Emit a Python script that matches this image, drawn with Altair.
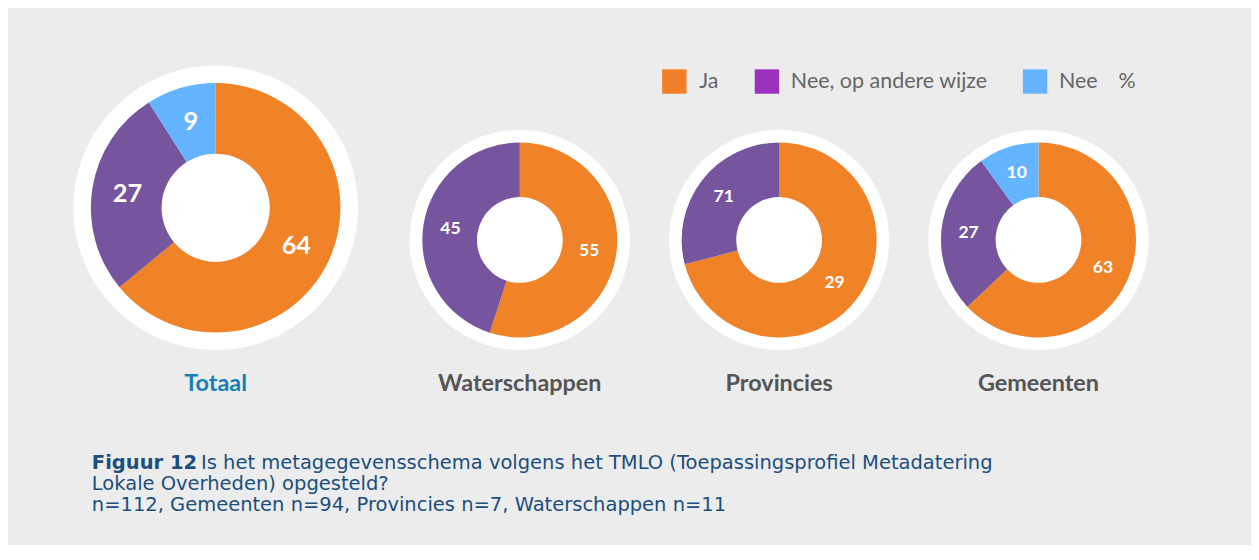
import altair as alt
import pandas as pd

# ---- data ----
categories = ["Ja", "Nee, op andere wijze", "Nee"]
panels = ["Totaal", "Waterschappen", "Provincies", "Gemeenten"]
# share of the ring drawn for each category (as drawn in the picture)
totaal_share = [64, 27, 9]
waterschappen_share = [55, 45, 0]
provincies_share = [71, 29, 0]
gemeenten_share = [63, 27, 10]
# numbers printed on the slices (as printed in the picture)
totaal_labels = ["64", "27", "9"]
waterschappen_labels = ["55", "45", ""]
provincies_labels = ["29", "71", ""]
gemeenten_labels = ["63", "27", "10"]

slice_colors = ["#f08228", "#76549e", "#64b4ff"]
legend_colors = ["#f07f28", "#9b32be", "#66b2ff"]
legend_unit = "%"

caption_bold = "Figuur 12"
caption_line1 = "Is het metagegevensschema volgens het TMLO (Toepassingsprofiel Metadatering"
caption_line2 = "Lokale Overheden) opgesteld?"
caption_line3 = "n=112, Gemeenten n=94, Provincies n=7, Waterschappen n=11"

BG = "#ececec"
LEG_TEXT = "#666666"


def panel_df(share, labels):
    rows = []
    for i, (c, v, l) in enumerate(zip(categories, share, labels)):
        if v > 0:
            rows.append({"cat": c, "v": v, "lab": l, "idx": i})
    return pd.DataFrame(rows)


def donut(name, share, labels, size, r_out, r_in, r_white, label_r, label_size, title_color):
    df = panel_df(share, labels)
    base = alt.Chart(df)
    theta = alt.Theta("v:Q", stack=True)
    order = alt.Order("idx:Q")
    white = base.mark_arc(radius=r_white, radius2=0, fill="white", stroke="white", strokeWidth=2).encode(
        theta=theta, order=order
    )
    ring = base.mark_arc(radius=r_out, radius2=r_in).encode(
        theta=theta,
        order=order,
        fill=alt.Fill("cat:N", scale=alt.Scale(domain=categories, range=slice_colors), legend=None),
    )
    text = base.mark_text(radius=label_r, font="Lato", fontWeight="bold", fontSize=label_size, color="white").encode(
        theta=theta, order=order, text="lab:N"
    )
    return alt.layer(white, ring, text).properties(
        width=size,
        height=size,
        title=alt.TitleParams(
            name, orient="bottom", anchor="middle", font="Lato", fontSize=24,
            fontWeight="bold", color=title_color, offset=20,
        ),
    )


tot = donut("Totaal", totaal_share, totaal_labels, 290, 128, 55.5, 145, 91.5, 26, "#1580b8")
wat = donut("Waterschappen", waterschappen_share, waterschappen_labels, 224, 100, 44, 112, 72, 18, "#555555")
pro = donut("Provincies", provincies_share, provincies_labels, 224, 100, 44, 112, 72, 18, "#555555")
gem = donut("Gemeenten", gemeenten_share, gemeenten_labels, 224, 100, 44, 112, 72, 18, "#555555")

# ---- legend drawn as its own small chart (swatch + label per category) ----
legend_df = pd.DataFrame({"cat": categories, "idx": list(range(len(categories)))})
leg_base = alt.Chart(legend_df)
swatches = leg_base.mark_square(size=625, opacity=1).encode(
    x=alt.X("idx:Q", scale=alt.Scale(domain=[0, 1, 2], range=[270.5, 365.5, 640.5], nice=False, zero=False),
            axis=None),
    y=alt.value(15.5),
    color=alt.Color("cat:N", scale=alt.Scale(domain=categories, range=legend_colors), legend=None),
)
leg_labels = leg_base.mark_text(align="left", baseline="middle", font="Lato", fontSize=22,
                                color=LEG_TEXT).encode(
    x=alt.X("idx:Q", scale=alt.Scale(domain=[0, 1, 2], range=[296, 390, 665], nice=False, zero=False),
            axis=None),
    y=alt.value(15.5),
    text="cat:N",
)
unit_df = pd.DataFrame({"u": [legend_unit]})
leg_unit = alt.Chart(unit_df).mark_text(align="left", baseline="middle", font="Lato", fontSize=22,
                                        color=LEG_TEXT).encode(
    x=alt.value(726), y=alt.value(15.5), text="u:N"
)
legend_chart = alt.layer(swatches, leg_labels, leg_unit).resolve_scale(x="independent").properties(
    width=740, height=46
)

right = alt.vconcat(legend_chart, alt.hconcat(wat, pro, gem, spacing=34), spacing=16)
top = alt.hconcat(tot, right, spacing=47)

cap_df = pd.DataFrame({"a": [0]})
cap_base = alt.Chart(cap_df)
cap_color = "#1b4f7e"
cap_font = "DejaVu Sans"
cap_size = 20
c0 = cap_base.mark_text(align="left", baseline="alphabetic", font=cap_font, fontSize=cap_size,
                        fontWeight="bold", color=cap_color).encode(
    x=alt.value(18), y=alt.value(75), text=alt.value(caption_bold))
c1 = cap_base.mark_text(align="left", baseline="alphabetic", font=cap_font, fontSize=cap_size,
                        color=cap_color).encode(
    x=alt.value(130), y=alt.value(75), text=alt.value(caption_line1))
c2 = cap_base.mark_text(align="left", baseline="alphabetic", font=cap_font, fontSize=cap_size,
                        color=cap_color).encode(
    x=alt.value(18), y=alt.value(96.5), text=alt.value(caption_line2))
c3 = cap_base.mark_text(align="left", baseline="alphabetic", font=cap_font, fontSize=cap_size,
                        color=cap_color).encode(
    x=alt.value(18), y=alt.value(118), text=alt.value(caption_line3))
caption = alt.layer(c0, c1, c2, c3).properties(width=1000, height=134)

chart = alt.vconcat(top, caption, spacing=0).properties(
    padding={"left": 64, "top": 49, "right": 102, "bottom": 12},
    background=BG,
).configure_view(stroke=None)

chart.save("out.html", embed_options={"renderer": "svg", "actions": False})
